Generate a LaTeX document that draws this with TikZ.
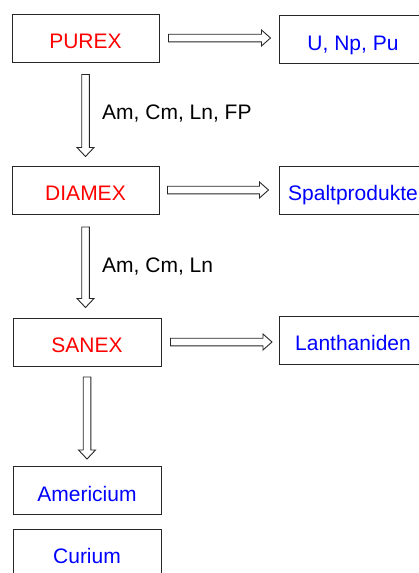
\documentclass[tikz,border=0pt]{standalone}
\usepackage{fontspec}
\setmainfont{Liberation Sans}
\usetikzlibrary{calc}
\definecolor{procred}{RGB}{255,0,0}
\definecolor{prodblue}{RGB}{0,0,255}
\tikzset{
  box/.style={draw=black!85, line width=1pt, minimum width=147pt, minimum height=48pt, inner sep=0pt,
    text height=21pt, text depth=0pt, font=\fontsize{21}{25}\selectfont},
  proc/.style={box, text=procred},
  prod/.style={box, text=prodblue},
  lbl/.style={anchor=base west, inner sep=0pt, font=\fontsize{21}{25}\selectfont},
  blockarr/.style={draw=black!85, line width=0.9pt, fill=white, line join=miter}
}
\newcommand\harrow[4]{%
  \draw[blockarr] let \p1=($(#1.east)+(#3pt,0pt)$), \p2=($(#2.west)-(#4pt,0pt)$) in
    (\x1,{\y1+3.8pt}) -- ({\x2-9pt},{\y1+3.8pt}) -- ({\x2-9pt},{\y1+8pt}) -- (\x2,\y1)
    -- ({\x2-9pt},{\y1-8pt}) -- ({\x2-9pt},{\y1-3.8pt}) -- (\x1,{\y1-3.8pt}) -- cycle;}
\newcommand\varrow[4]{%
  \draw[blockarr] let \p1=($(#1.south)-(0pt,#3pt)$), \p2=($(#2.north)+(0pt,#4pt)$) in
    ({\x1-3.8pt},\y1) -- ({\x1-3.8pt},{\y2+9pt}) -- ({\x1-8.5pt},{\y2+9pt}) -- (\x1,\y2)
    -- ({\x1+8.5pt},{\y2+9pt}) -- ({\x1+3.8pt},{\y2+9pt}) -- ({\x1+3.8pt},\y1) -- cycle;}
\begin{document}
\begin{tikzpicture}[x=1pt,y=-1pt]
\useasboundingbox (0,0) rectangle (419,573);
\clip (0,0) rectangle (419,573);
\node[proc] (purex) at (85.5,38) {PUREX};
\node[prod, minimum width=148pt] (unp) at (353,39.5) {U, Np, Pu};
\node[proc] (diamex) at (85.5,190) {DIAMEX};
\node[prod, minimum width=148pt] (spalt) at (353,190) {Spaltprodukte};
\node[proc, minimum width=148pt] (sanex) at (87,342) {SANEX};
\node[prod, minimum width=148pt] (lanth) at (353,340) {Lanthaniden};
\node[prod, minimum width=148pt] (am) at (87,490.5) {Americium};
\node[prod, minimum width=148pt] (cm) at (87,553) {Curium};
\node[lbl] (l1) at (102,119.5) {Am, Cm, Ln, FP};
\node[lbl] (l2) at (102,272.5) {Am, Cm, Ln};
\harrow{purex}{unp}{9}{8}
\harrow{diamex}{spalt}{8}{10}
\harrow{sanex}{lanth}{9}{6.5}
\varrow{purex}{diamex}{12}{9}
\varrow{diamex}{sanex}{12.5}{10}
\varrow{sanex}{am}{10.5}{7}
\end{tikzpicture}
\end{document}
